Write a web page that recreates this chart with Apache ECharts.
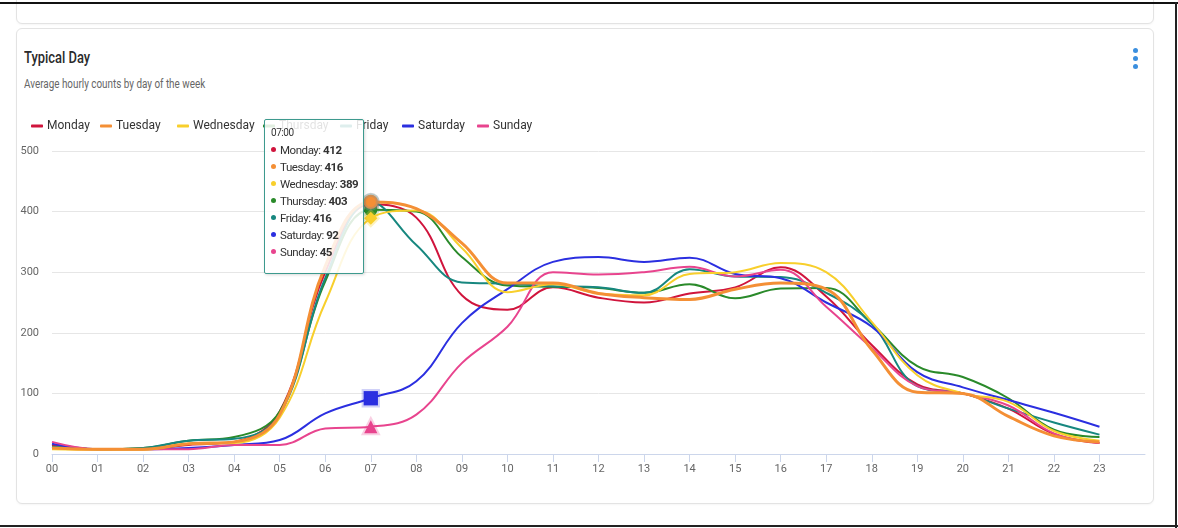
<!DOCTYPE html>
<html>
<head>
<meta charset="utf-8">
<script src="https://cdn.jsdelivr.net/npm/echarts@6/dist/echarts.min.js"></script>
<style>
  html, body { margin: 0; padding: 0; background: #ffffff; }
  #wrap { position: relative; width: 1178px; height: 528px; overflow: hidden; background: #fff; font-family: Roboto, sans-serif; }
  .frameTop { position: absolute; left: 0; top: 2px; width: 1178px; height: 2px; background: #111; }
  .frameRight { position: absolute; left: 1175px; top: 2px; width: 2px; height: 526px; background: #222; }
  .frameBottom { position: absolute; left: 0; top: 525px; width: 1178px; height: 2px; background: #222; }
  .card { position: absolute; border: 1px solid #e3e3e3; border-radius: 6px; background: #fff; box-shadow: 0 1px 2px rgba(0,0,0,0.04); }
  #card0 { left: 16px; top: -20px; width: 1136px; height: 42px; }
  #card1 { left: 16px; top: 28px; width: 1136px; height: 474px; }
  .dot { position: absolute; left: 1133px; width: 5px; height: 5px; border-radius: 50%; background: #3b8fdf; }
  #title { position: absolute; left: 24px; top: 47px; font-size: 17px; font-weight: 500; color: #2b2b2b; transform: scaleX(0.76); transform-origin: 0 0; white-space: nowrap; }
  #subtitle { position: absolute; left: 24px; top: 76px; font-size: 12.5px; color: #666; transform: scaleX(0.79); transform-origin: 0 0; white-space: nowrap; }
  #chart { position: absolute; left: 0; top: 0; width: 1178px; height: 528px; }
</style>
</head>
<body>
<div id="wrap">
  <div class="card" id="card0"></div>
  <div class="card" id="card1"></div>
  <div class="dot" style="top:48px"></div>
  <div class="dot" style="top:56px"></div>
  <div class="dot" style="top:64px"></div>
  <div id="title">Typical Day</div>
  <div id="subtitle">Average hourly counts by day of the week</div>
  <div id="chart"></div>
  <div class="frameTop"></div>
  <div class="frameRight"></div>
  <div class="frameBottom"></div>
</div>
<script>
// ---- data ----
const hours = ['00','01','02','03','04','05','06','07','08','09','10','11','12','13','14','15','16','17','18','19','20','21','22','23'];
const yTicks = [0, 100, 200, 300, 400, 500];
const dayNames = ['Monday','Tuesday','Wednesday','Thursday','Friday','Saturday','Sunday'];
const monday    = [15, 8, 8, 15, 20, 70, 300, 412, 390, 262, 238, 275, 258, 250, 265, 275, 308, 260, 180, 115, 100, 75, 33, 18];
const tuesday   = [10, 8, 8, 17, 20, 65, 310, 416, 405, 348, 282, 282, 265, 258, 255, 272, 282, 272, 172, 102, 100, 62, 30, 20];
const wednesday = [8, 7, 7, 17, 18, 60, 250, 389, 402, 340, 267, 280, 265, 262, 297, 300, 315, 300, 218, 130, 100, 86, 38, 22];
const thursday  = [12, 8, 10, 22, 28, 70, 285, 403, 400, 325, 278, 276, 274, 266, 280, 257, 273, 274, 215, 145, 127, 92, 40, 28];
const friday    = [12, 8, 10, 22, 25, 65, 290, 416, 345, 283, 281, 277, 275, 266, 305, 293, 292, 266, 215, 112, 100, 75, 52, 32];
const saturday  = [17, 8, 8, 10, 15, 23, 67, 92, 120, 216, 272, 317, 325, 317, 324, 297, 290, 250, 210, 135, 110, 89, 68, 45];
const sunday    = [20, 8, 8, 8, 15, 15, 42, 45, 65, 150, 210, 300, 296, 300, 309, 293, 304, 243, 175, 112, 100, 80, 34, 18];
const values = [monday, tuesday, wednesday, thursday, friday, saturday, sunday];
const colors = ['#d0143c', '#f48f35', '#f8cf2c', '#2a8a2a', '#17877f', '#2b2fe0', '#e8448e'];
const halos  = ['rgba(208,20,60,0.2)', 'rgba(140,140,140,0.35)', 'rgba(248,207,44,0.3)', 'rgba(42,138,42,0.2)', 'rgba(23,135,127,0.2)', 'rgba(43,47,224,0.22)', 'rgba(232,68,142,0.25)'];
const symbols = ['circle', 'circle', 'diamond', 'circle', 'circle', 'rect', 'triangle'];
const symbolSizes = [12, 13, 12, 12, 12, 13, 12];
const legendLeft = [31, 100, 177, 263, 340, 402, 477];
const focusIndex = 7;

const FONT = "Roboto, sans-serif";

const chart = echarts.init(document.getElementById('chart'), null, { renderer: 'canvas' });

const series = dayNames.map((name, i) => ({
  name: name,
  type: 'line',
  data: values[i],
  smooth: 0.4,
  showSymbol: true,
  showAllSymbol: true,
  symbol: symbols[i],
  symbolSize: (v, p) => (p.dataIndex === focusIndex ? symbolSizes[i] : 0),
  z: i === 1 ? 6 : (i === 2 ? 5 : 3),
  lineStyle: { color: colors[i], width: i === 1 ? 3 : 2 },
  itemStyle: { color: colors[i], borderColor: halos[i], borderWidth: 4 },
  emphasis: { disabled: true }
}));

const legends = dayNames.map((name, i) => ({
  data: [name],
  left: legendLeft[i],
  top: 120,
  padding: 0,
  icon: 'roundRect',
  itemWidth: 12,
  itemHeight: 3,
  itemGap: 0,
  itemStyle: { borderWidth: 0 },
  textStyle: { fontFamily: FONT, fontSize: 12, color: '#333', padding: [0, 0, 0, -1] }
}));

chart.setOption({
  animation: false,
  textStyle: { fontFamily: FONT },
  legend: legends,
  tooltip: {
    trigger: 'axis',
    triggerOn: 'none',
    alwaysShowContent: true,
    axisPointer: { type: 'none' },
    backgroundColor: 'rgba(255,255,255,0.86)',
    borderColor: '#3d9a8e',
    borderWidth: 1.5,
    borderRadius: 2,
    padding: [6, 5, 12, 6],
    extraCssText: 'box-shadow: 1px 1px 3px rgba(0,0,0,0.15); line-height: 17px; letter-spacing: -0.45px;',
    textStyle: { fontFamily: FONT, fontSize: 11.5, color: '#333' },
    position: function () { return [264, 119]; },
    formatter: function (params) {
      let s = '<div style="font-size:10px;color:#333;line-height:14px;margin-bottom:2px">' + hours[params[0].dataIndex] + ':00</div>';
      params.forEach(p => {
        s += '<div><span style="display:inline-block;width:5px;height:5px;border-radius:50%;background:' + colors[p.seriesIndex] +
             ';margin-right:4px;vertical-align:middle;position:relative;top:-1px"></span>' + p.seriesName + ': <b>' + p.value + '</b></div>';
      });
      return s;
    }
  },
  grid: { left: 52, right: 33, top: 151, bottom: 74, containLabel: false },
  xAxis: {
    type: 'category',
    boundaryGap: false,
    data: hours.concat(['']),
    axisLine: { lineStyle: { color: '#ccd6eb', width: 1 } },
    axisTick: { show: true, length: 8, lineStyle: { color: '#ccd6eb' }, interval: (i) => i < hours.length },
    axisLabel: { color: '#666', fontSize: 11, fontFamily: FONT, margin: 10, interval: (i) => i < hours.length },
    splitLine: { show: false }
  },
  yAxis: {
    type: 'value',
    min: yTicks[0],
    max: yTicks[yTicks.length - 1],
    interval: yTicks[1] - yTicks[0],
    axisLine: { show: false },
    axisTick: { show: false },
    axisLabel: { color: '#666', fontSize: 11, fontFamily: FONT, margin: 13 },
    splitLine: { lineStyle: { color: '#e6e6e6', width: 1 } }
  },
  series: series
});

chart.dispatchAction({ type: 'showTip', seriesIndex: 4, dataIndex: focusIndex });
setTimeout(() => chart.dispatchAction({ type: 'showTip', seriesIndex: 4, dataIndex: focusIndex }), 50);
</script>
</body>
</html>
